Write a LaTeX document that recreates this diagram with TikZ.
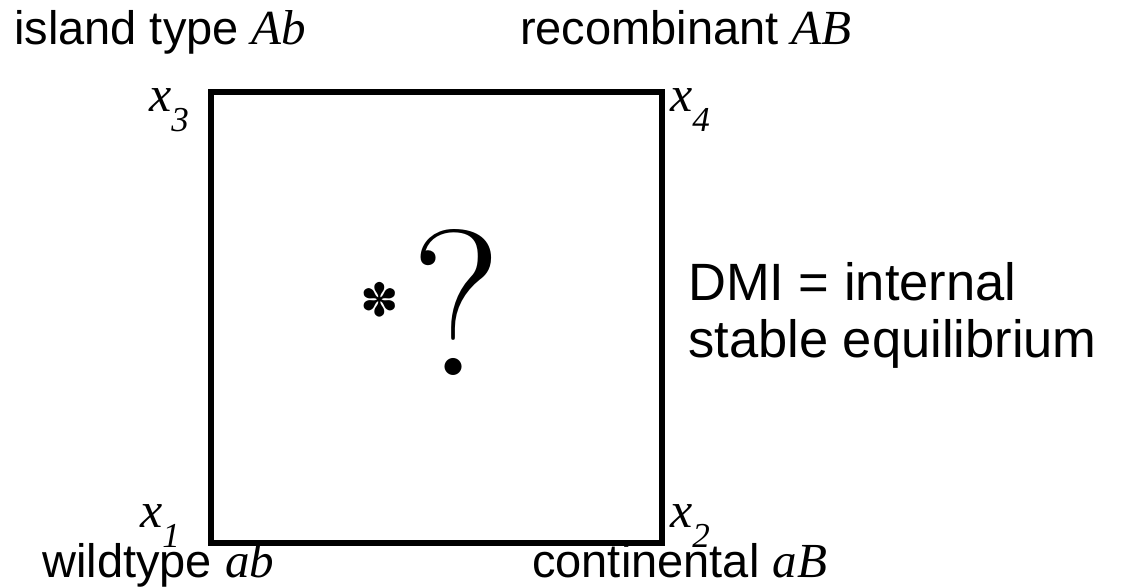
\documentclass[tikz,border=0pt]{standalone}
\usepackage{fontspec}
\setmainfont{Liberation Serif}
\setsansfont{Liberation Sans}
\newfontfamily\dejavu{DejaVu Sans}
\newfontfamily\lmr{Latin Modern Roman}
\tikzset{
  lbl/.style={inner sep=0pt, anchor=base west, font=\sffamily\fontsize{47}{56}\selectfont},
  dmi/.style={inner sep=0pt, anchor=base west, font=\sffamily\fontsize{52.5}{60}\selectfont},
  xlbl/.style={inner sep=0pt, anchor=base west, font=\rmfamily\itshape\fontsize{50}{58}\selectfont},
  box/.style={draw, line width=5.5pt, line join=miter}
}
\newcommand{\gen}[1]{{\rmfamily\itshape\fontsize{49}{56}\selectfont #1}}
\newcommand{\xsub}[2]{#1\raisebox{-0.4em}{\fontsize{35}{40}\selectfont #2}}
\begin{document}
\begin{tikzpicture}[x=1pt,y=-1pt]
\useasboundingbox (0,0) rectangle (1122,588);
\coordinate (c1) at (211,543);
\coordinate (c2) at (662,543);
\coordinate (c3) at (211,92);
\coordinate (c4) at (662,92);
\draw[box] (c1) -- (c2) -- (c4) -- (c3) -- cycle;
\node[lbl] (ab) at (14,45) {island type \gen{Ab}};
\node[lbl] (AB) at (520,45) {recombinant \gen{AB}};
\node[lbl] (wt) at (42,577) {wildtype \gen{ab}};
\node[lbl] (cont) at (532,577) {continental \gen{aB}};
\node[dmi] (dmi1) at (688,300) {DMI = internal};
\node[dmi] (dmi2) at (688,357) {stable equilibrium};
\node[xlbl] (x3) at (149,112) {\xsub{x}{3}};
\node[xlbl] (x4) at (670,112) {\xsub{x}{4}};
\node[xlbl] (x1) at (140,527) {\xsub{x}{1}};
\node[xlbl] (x2) at (670,527) {\xsub{x}{2}};
\node[inner sep=0pt, font=\lmr\fontsize{208}{230}\selectfont, anchor=base] (q) at (457,375) {?};
\node[inner sep=0pt, font=\dejavu\fontsize{46}{50}\selectfont] (star) at (380,300) {✽};
\end{tikzpicture}
\end{document}
